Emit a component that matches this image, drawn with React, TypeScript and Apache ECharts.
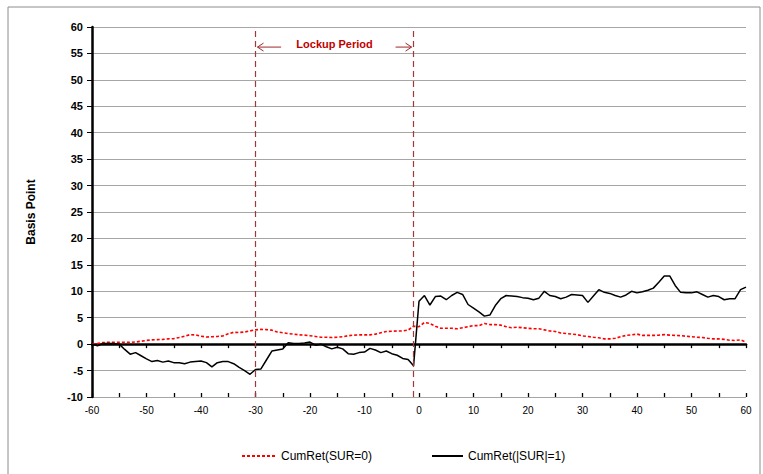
import React, { useEffect, useRef } from "react";
import * as echarts from "echarts";

const days = [
  -60, -59, -58, -57, -56, -55, -54, -53, -52, -51, -50, -49, -48, -47, -46, -45, -44, -43, -42, -41,
  -40, -39, -38, -37, -36, -35, -34, -33, -32, -31, -30, -29, -28, -27, -26, -25, -24, -23, -22, -21,
  -20, -19, -18, -17, -16, -15, -14, -13, -12, -11, -10, -9, -8, -7, -6, -5, -4, -3, -2, -1,
  0, 1, 2, 3, 4, 5, 6, 7, 8, 9, 10, 11, 12, 13, 14, 15, 16, 17, 18, 19,
  20, 21, 22, 23, 24, 25, 26, 27, 28, 29, 30, 31, 32, 33, 34, 35, 36, 37, 38, 39,
  40, 41, 42, 43, 44, 45, 46, 47, 48, 49, 50, 51, 52, 53, 54, 55, 56, 57, 58, 59, 60,
];

const cumRetSur0 = [
  0.0, 0.1, 0.3, 0.35, 0.35, 0.35, 0.35, 0.35, 0.4, 0.55, 0.7, 0.8, 0.85, 0.9, 1.0, 1.05, 1.25, 1.5, 1.8, 1.75,
  1.5, 1.35, 1.4, 1.45, 1.55, 1.95, 2.25, 2.2, 2.3, 2.5,
  2.7, 2.8, 2.75, 2.65, 2.3, 2.15, 2.0, 1.9, 1.75, 1.7, 1.6, 1.45, 1.3, 1.3, 1.25, 1.3, 1.4, 1.6, 1.7, 1.75,
  1.75, 1.75, 1.9, 2.15, 2.4, 2.45, 2.5, 2.5, 2.65, 3.4,
  3.3, 4.1, 3.9, 3.4, 3.0, 3.0, 3.0, 2.9, 3.1, 3.3, 3.5, 3.5, 3.9, 3.7, 3.7, 3.6, 3.3, 3.1, 3.2, 3.1,
  3.0, 2.9, 2.9, 2.7, 2.5, 2.4, 2.1, 2.0, 1.9, 1.8,
  1.55, 1.45, 1.3, 1.2, 1.0, 1.0, 1.1, 1.4, 1.65, 1.75, 1.9, 1.65, 1.65, 1.65, 1.7, 1.8, 1.7, 1.65, 1.6, 1.5,
  1.4, 1.3, 1.25, 1.1, 1.0, 1.0, 0.9, 0.75, 0.7, 0.8, 0.4,
];

const cumRetSur1 = [
  0.0, -0.3, 0.1, 0.1, 0.1, 0.0, -1.0, -1.9, -1.6, -2.2, -2.8, -3.3, -3.1, -3.4, -3.2, -3.5, -3.5, -3.7, -3.4, -3.3,
  -3.2, -3.5, -4.3, -3.5, -3.3, -3.3, -3.7, -4.4, -5.0, -5.7,
  -4.8, -4.7, -3.0, -1.3, -1.1, -0.9, 0.25, 0.1, 0.1, 0.2, 0.4, -0.2, 0.0, -0.5, -0.9, -0.6, -0.9, -1.8, -1.9, -1.6,
  -1.5, -0.8, -1.1, -1.6, -1.3, -1.8, -2.1, -2.7, -2.9, -4.1,
  8.1, 9.2, 7.4, 9.0, 9.1, 8.4, 9.2, 9.8, 9.4, 7.5, 6.8, 6.1, 5.3, 5.5, 7.3, 8.6, 9.2, 9.1, 9.0, 8.8,
  8.7, 8.4, 8.7, 10.0, 9.2, 9.0, 8.6, 8.9, 9.4, 9.3,
  9.2, 7.9, 9.1, 10.3, 9.8, 9.6, 9.2, 8.9, 9.3, 10.0, 9.7, 9.9, 10.2, 10.6, 11.7, 12.9, 12.9, 11.1, 9.8, 9.7,
  9.7, 9.9, 9.4, 8.9, 9.2, 9.0, 8.4, 8.6, 8.6, 10.3, 10.8,
];

const seriesNames = ["CumRet(SUR=0)", "CumRet(|SUR|=1)"];
const lockupStart = -30;
const lockupEnd = -1;
const lockupLabel = "Lockup Period";
const yAxisName = "Basis Point";

const FONT = "'Liberation Sans', Arial, sans-serif";

export default function App() {
  const ref = useRef<HTMLDivElement>(null);

  useEffect(() => {
    const chart = echarts.init(ref.current!, null, { renderer: "svg" });
    const baseX = {
      type: "value",
      min: -60,
      max: 60,
      position: "bottom",
      splitLine: { show: false },
    };
    const legendBase = {
      itemHeight: 10,
      itemStyle: { opacity: 0 },
      textStyle: { fontFamily: FONT, fontSize: 12, color: "#000" },
    };
    chart.setOption({
      animation: false,
      backgroundColor: "#ffffff",
      grid: { left: 92, right: 17, top: 27, bottom: 77 },
      xAxis: [
        {
          ...baseX,
          interval: 10,
          axisLine: { show: false, onZero: false },
          axisTick: { show: false },
          axisLabel: { fontFamily: FONT, fontSize: 10, color: "#000", margin: 8 },
        },
        {
          ...baseX,
          interval: 5,
          axisLine: { show: true, onZero: true, lineStyle: { color: "#000", width: 2.5 } },
          axisTick: { show: true, length: 4, lineStyle: { color: "#000", width: 1.3 } },
          axisLabel: { show: false },
        },
        {
          ...baseX,
          interval: 5,
          axisLine: { show: false, onZero: true },
          axisTick: { show: true, inside: true, length: 4, lineStyle: { color: "#000", width: 1.3 } },
          axisLabel: { show: false },
        },
      ],
      yAxis: {
        type: "value",
        min: -10,
        max: 60,
        interval: 5,
        name: yAxisName,
        nameLocation: "middle",
        nameGap: 55,
        nameRotate: 90,
        nameTextStyle: { fontFamily: FONT, fontWeight: "bold", fontSize: 12, color: "#000" },
        axisLine: { show: true, onZero: false, lineStyle: { color: "#000", width: 2.5 } },
        axisTick: { show: true, length: 5, lineStyle: { color: "#000", width: 1 } },
        axisLabel: { fontFamily: FONT, fontWeight: "bold", fontSize: 11, color: "#000", margin: 9 },
        splitLine: { lineStyle: { color: "#a6a6a6", width: 1.2 } },
      },
      legend: [
        { ...legendBase, data: [seriesNames[0]], left: 236, top: 445, itemWidth: 34 },
        { ...legendBase, data: [seriesNames[1]], left: 426, top: 445, itemWidth: 31 },
      ],
      series: [
        {
          name: seriesNames[0],
          type: "line",
          data: days.map((d, i) => [d, cumRetSur0[i]]),
          symbol: "none",
          showSymbol: false,
          lineStyle: { color: "#ff0000", width: 1.6, type: [3, 2] },
          itemStyle: { color: "#ff0000" },
          z: 3,
          markLine: {
            silent: true,
            symbol: "none",
            label: { show: false },
            lineStyle: { color: "#a03a3a", type: [6, 4], width: 1.2 },
            data: [{ xAxis: lockupStart }, { xAxis: lockupEnd }],
          },
        },
        {
          name: seriesNames[1],
          type: "line",
          data: days.map((d, i) => [d, cumRetSur1[i]]),
          symbol: "none",
          showSymbol: false,
          lineStyle: { color: "#000000", width: 1.5 },
          itemStyle: { color: "#000000" },
          z: 4,
        },
      ],
    });

    const px = (x: number, y: number) =>
      chart.convertToPixel({ xAxisIndex: 0, yAxisIndex: 0 }, [x, y]) as number[];
    const [xs, ya] = px(lockupStart, 56.2);
    const [xe] = px(lockupEnd, 56.2);
    const [xl1] = px(-25.3, 56.2);
    const [xr0] = px(-4.3, 56.2);
    const [xc, yt] = px((lockupStart + lockupEnd) / 2, 56.7);
    const arrowStyle = { stroke: "#a0282a", lineWidth: 1, fill: "none" };

    chart.setOption({
      graphic: [
        {
          type: "rect",
          shape: { x: 8, y: 7, width: 752, height: 480 },
          style: { fill: "none", stroke: "#8c8c8c", lineWidth: 1 },
          silent: true,
        },
        {
          type: "text",
          x: xc,
          y: yt,
          style: {
            text: lockupLabel,
            fill: "#c00000",
            font: `bold 11px ${FONT}`,
            textAlign: "center",
            textVerticalAlign: "middle",
          },
        },
        { type: "line", shape: { x1: xs + 2, y1: ya, x2: xl1, y2: ya }, style: arrowStyle },
        {
          type: "polyline",
          shape: { points: [[xs + 8, ya - 4], [xs + 2, ya], [xs + 8, ya + 4]] },
          style: arrowStyle,
        },
        { type: "line", shape: { x1: xr0, y1: ya, x2: xe - 2, y2: ya }, style: arrowStyle },
        {
          type: "polyline",
          shape: { points: [[xe - 8, ya - 4], [xe - 2, ya], [xe - 8, ya + 4]] },
          style: arrowStyle,
        },
      ],
    });

    return () => chart.dispose();
  }, []);

  return (
    <div
      ref={ref}
      style={{ position: "absolute", left: 0, top: 0, width: 763, height: 474 }}
    />
  );
}
